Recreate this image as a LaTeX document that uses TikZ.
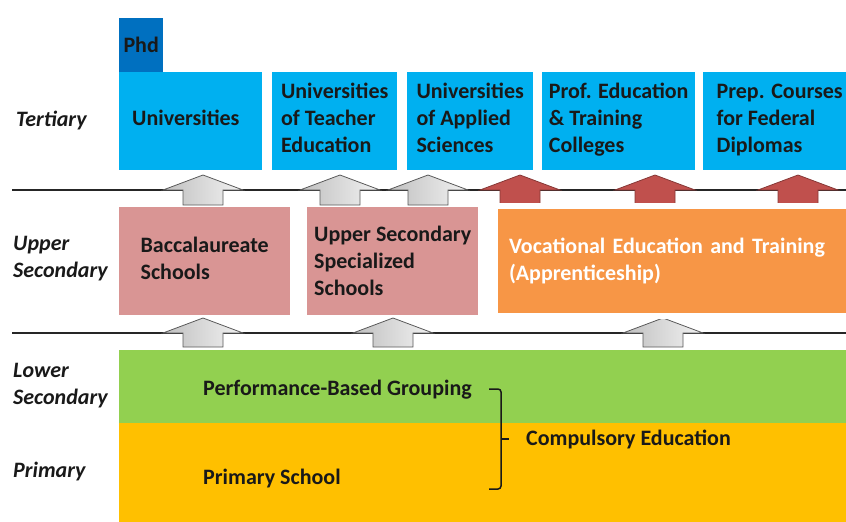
\documentclass[tikz,border=0pt]{standalone}
\usepackage{fontspec}
\setmainfont{Carlito}
\usetikzlibrary{shadows}

\definecolor{tertblue}{HTML}{00B0F0}
\definecolor{phdblue}{HTML}{0070C0}
\definecolor{secpink}{HTML}{D99594}
\definecolor{vetorange}{HTML}{F79646}
\definecolor{lowgreen}{HTML}{92D050}
\definecolor{primyellow}{HTML}{FFC000}
\definecolor{pathred}{HTML}{C0504D}

\begin{document}
\begin{tikzpicture}[x=1pt, y=-1pt,
    level/.style={font=\bfseries\itshape\fontsize{22}{27}\selectfont, text=black!90, align=left, anchor=west, inner sep=0pt},
    box/.style={font=\bfseries\fontsize{22}{27}\selectfont, text=black!90, align=left, anchor=north west, inner sep=0pt},
    tert/.style={box, fill=tertblue, minimum height=98pt, text depth=6pt},
    upsec/.style={box, fill=secpink, minimum height=108pt},
    band/.style={anchor=north west, inner sep=0pt, minimum width=740pt},
    greyarrow/.style={left color=gray!50, right color=gray!10, draw=gray!70!black, line width=0.8pt},
    redarrow/.style={fill=pathred, draw=pathred!70!black, line width=0.8pt},
    stage/.style={line width=1.6pt, black!85}
]
    \useasboundingbox (0,0) rectangle (846,522);

    % school levels
    \node[level] (tert) at (16,121) {Tertiary};
    \node[level] (upper) at (13,259) {Upper\\Secondary};
    \node[level] (lower) at (13,386) {Lower\\Secondary};
    \node[level] (primary) at (13,472) {Primary};

    \draw[stage] (12,190) -- (846,190);
    \draw[stage] (12,333) -- (846,333);

    \foreach \x/\kind in {203/greyarrow, 340/greyarrow, 428/greyarrow, 520/redarrow, 655/redarrow, 798/redarrow} {
        \draw[\kind] (\x,175) -- ++(40,15) -- ++(-20,0) -- ++(0,15) -- ++(-40,0) -- ++(0,-15) -- ++(-20,0) -- cycle;
    }
    \foreach \x in {203, 393, 663} {
        \draw[greyarrow] (\x,318) -- ++(40,15) -- ++(-20,0) -- ++(0,14) -- ++(-40,0) -- ++(0,-14) -- ++(-20,0) -- cycle;
    }

    % tertiary
    \node[box, fill=phdblue, minimum width=44pt, minimum height=54pt] (phd) at (119,18) {Phd};
    \node[tert, text width=117pt, inner xsep=13pt] (uni) at (119,72) {Universities};
    \node[tert, minimum width=125pt] (ute) at (272,72) {Universities\\of Teacher\\Education};
    \node[tert, minimum width=126pt] (uas) at (407,72) {Universities\\of Applied\\Sciences};
    \node[tert, minimum width=153pt] (pet) at (542,72) {Prof. Education\\\& Training\\Colleges};
    \node[tert, minimum width=153pt] (prep) at (703,72) {Prep. Courses\\for Federal\\Diplomas};

    % upper secondary
    \node[upsec, minimum width=171pt, text depth=5pt] (bacc) at (119,207) {Baccalaureate\\Schools};
    \node[upsec, minimum width=171pt] (uss) at (307,207) {Upper Secondary\\Specialized\\Schools};
    \node[box, fill=vetorange, draw=white, line width=6pt, text=white, text width=337pt, inner xsep=14pt,
        minimum height=110pt, drop shadow={opacity=0.3, shadow xshift=0pt, shadow yshift=-2pt}]
        (vet) at (492,203) {Vocational Education and Training\\(Apprenticeship)};

    % compulsory school
    \node[band, fill=lowgreen, minimum height=73pt] (lowband) at (119,350) {};
    \node[band, fill=primyellow, minimum height=100pt] (primband) at (119,423) {};
    \node[box, anchor=west] (perf) at (203,390) {Performance-Based Grouping};
    \node[box, anchor=west] (prim) at (203,479) {Primary School};

    \coordinate (btop) at (489,389);
    \coordinate (bbot) at (489,489);
    \coordinate (btip) at (509,439);
    \draw[line width=1.5pt, black!90, rounded corners=3pt] (btop) -- (501,389) -- (501,489) -- (bbot);
    \draw[line width=1.5pt, black!90] (501,439) -- (btip);
    \node[box, anchor=west] (comp) at (526,439) {Compulsory Education};
\end{tikzpicture}
\end{document}
